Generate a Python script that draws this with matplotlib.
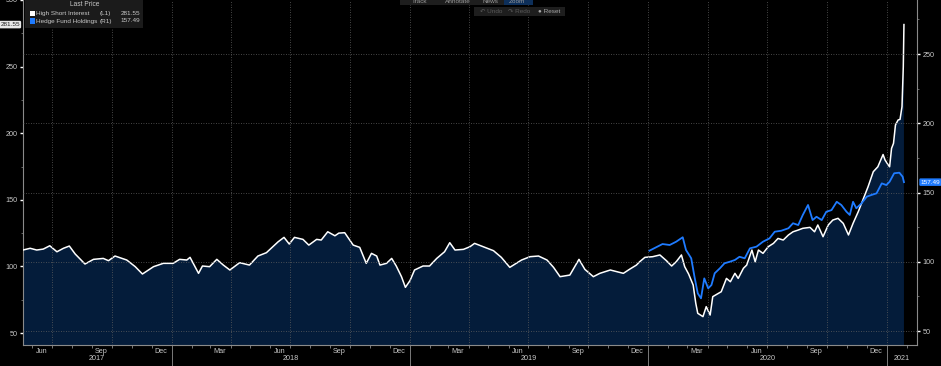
import matplotlib
matplotlib.use("Agg")
import matplotlib.pyplot as plt
import matplotlib.dates as mdates
import pandas as pd
from matplotlib.patches import Rectangle
from matplotlib.ticker import MultipleLocator
from matplotlib.transforms import blended_transform_factory

plt.rcParams["font.family"] = ["Liberation Sans", "DejaVu Sans"]

# High Short Interest basket (left axis)
white_dates = [
    "2017-05-18", "2017-05-29", "2017-06-08", "2017-06-18", "2017-06-28", "2017-07-09",
    "2017-07-19", "2017-07-28", "2017-08-06", "2017-08-21", "2017-09-03", "2017-09-18",
    "2017-09-26", "2017-10-06", "2017-10-24", "2017-11-06", "2017-11-17", "2017-12-04",
    "2017-12-19", "2018-01-03", "2018-01-13", "2018-01-24", "2018-01-29", "2018-02-11",
    "2018-02-17", "2018-02-28", "2018-03-11", "2018-03-21", "2018-03-31", "2018-04-15",
    "2018-04-30", "2018-05-13", "2018-05-26", "2018-06-13", "2018-06-22", "2018-06-30",
    "2018-07-08", "2018-07-21", "2018-07-30", "2018-08-11", "2018-08-18", "2018-08-28",
    "2018-09-08", "2018-09-14", "2018-09-23", "2018-10-06", "2018-10-16", "2018-10-26",
    "2018-11-03", "2018-11-11", "2018-11-16", "2018-11-26", "2018-12-04", "2018-12-11",
    "2018-12-19", "2018-12-25", "2019-01-01", "2019-01-08", "2019-01-21", "2019-01-31",
    "2019-02-11", "2019-02-23", "2019-03-03", "2019-03-11", "2019-03-24", "2019-04-03",
    "2019-04-10", "2019-04-23", "2019-05-09", "2019-05-21", "2019-06-03", "2019-06-21",
    "2019-07-04", "2019-07-17", "2019-07-30", "2019-08-09", "2019-08-19", "2019-09-03",
    "2019-09-17", "2019-09-26", "2019-10-09", "2019-10-19", "2019-11-04", "2019-11-24",
    "2019-12-04", "2019-12-14", "2019-12-19", "2019-12-27", "2020-01-08", "2020-01-19",
    "2020-01-29", "2020-02-06", "2020-02-13", "2020-02-21", "2020-02-26", "2020-03-03",
    "2020-03-10", "2020-03-14", "2020-03-17", "2020-03-25", "2020-03-30", "2020-04-05",
    "2020-04-09", "2020-04-16", "2020-04-22", "2020-04-30", "2020-05-06", "2020-05-13",
    "2020-05-18", "2020-05-26", "2020-05-31", "2020-06-08", "2020-06-13", "2020-06-18",
    "2020-06-25", "2020-07-03", "2020-07-11", "2020-07-18", "2020-07-26", "2020-08-03",
    "2020-08-10", "2020-08-18", "2020-08-25", "2020-09-05", "2020-09-12", "2020-09-17",
    "2020-09-25", "2020-10-03", "2020-10-10", "2020-10-18", "2020-10-26", "2020-11-03",
    "2020-11-10", "2020-11-18", "2020-11-25", "2020-12-03", "2020-12-11", "2020-12-18",
    "2020-12-26", "2020-12-29", "2021-01-03", "2021-01-05", "2021-01-08", "2021-01-11",
    "2021-01-14", "2021-01-18", "2021-01-21", "2021-01-24", "2021-01-26", "2021-01-27",
]
white_vals = [
    112.3, 113.6, 112.3, 113.0, 115.5, 111.0,
    113.6, 115.3, 109.3, 101.8, 105.3, 106.0,
    104.3, 107.8, 104.8, 99.8, 94.3, 99.8,
    102.3, 102.3, 105.3, 104.8, 106.8, 94.8,
    100.3, 99.8, 105.3, 101.0, 97.3, 102.8,
    101.0, 107.8, 110.3, 118.5, 121.8, 116.8,
    121.8, 120.3, 116.0, 120.3, 119.8, 126.0,
    123.0, 125.0, 125.3, 116.0, 114.3, 102.3,
    109.8, 107.8, 101.0, 102.3, 106.0, 100.3,
    92.3, 84.3, 89.3, 97.3, 100.3, 100.3,
    106.0, 111.0, 117.8, 112.3, 112.8, 114.8,
    117.3, 114.8, 111.8, 106.8, 99.3, 104.8,
    107.3, 107.8, 104.8, 99.3, 92.3, 93.5,
    105.3, 97.8, 92.3, 94.8, 97.3, 94.8,
    98.0, 101.0, 103.5, 106.8, 107.3, 108.6,
    104.3, 100.3, 103.5, 108.6, 99.8, 94.3,
    86.0, 72.3, 64.8, 62.3, 69.8, 63.5,
    77.3, 79.3, 81.0, 91.0, 88.5, 94.8,
    91.0, 98.6, 101.0, 112.3, 103.5, 112.3,
    109.8, 114.8, 117.3, 121.0, 119.8, 123.6,
    126.0, 127.3, 128.6, 129.3, 126.0, 131.1,
    122.3, 131.1, 134.8, 136.1, 132.3, 123.6,
    132.3, 141.1, 149.8, 159.8, 171.1, 174.8,
    184.0, 179.9, 176.1, 174.8, 188.6, 192.4,
    206.2, 209.9, 210.4, 219.9, 249.9, 281.55,
]

# Hedge Fund Holdings basket (right axis)
blue_dates = [
    "2020-01-03", "2020-01-13", "2020-01-23", "2020-02-03", "2020-02-13", "2020-02-23",
    "2020-02-28", "2020-03-07", "2020-03-12", "2020-03-17", "2020-03-22", "2020-03-27",
    "2020-04-02", "2020-04-07", "2020-04-12", "2020-04-20", "2020-04-27", "2020-05-05",
    "2020-05-13", "2020-05-20", "2020-05-28", "2020-06-05", "2020-06-15", "2020-06-25",
    "2020-07-05", "2020-07-13", "2020-07-23", "2020-08-03", "2020-08-10", "2020-08-18",
    "2020-08-25", "2020-09-02", "2020-09-09", "2020-09-15", "2020-09-23", "2020-09-30",
    "2020-10-08", "2020-10-16", "2020-10-23", "2020-10-31", "2020-11-05", "2020-11-10",
    "2020-11-15", "2020-11-23", "2020-12-01", "2020-12-08", "2020-12-16", "2020-12-24",
    "2020-12-31", "2021-01-05", "2021-01-12", "2021-01-20", "2021-01-25", "2021-01-27",
]
blue_vals = [
    108.0, 110.4, 112.8, 112.1, 114.5, 117.7,
    108.5, 102.5, 89.2, 77.2, 73.6, 88.0,
    80.8, 83.2, 91.7, 95.3, 98.9, 100.0,
    101.3, 103.6, 102.5, 109.7, 110.9, 114.5,
    116.9, 121.7, 122.4, 124.2, 127.8, 126.5,
    133.8, 141.0, 130.1, 132.5, 130.1, 136.1,
    137.3, 143.3, 141.0, 136.1, 133.8, 143.3,
    138.6, 142.2, 147.0, 148.2, 149.4, 156.6,
    155.4, 157.8, 163.9, 164.3, 161.4, 157.49,
]

legend_names = ["High Short Interest", "Hedge Fund Holdings"]
legend_axes = ["(L1)", "(R1)"]
last_white = white_vals[-1]
last_blue = blue_vals[-1]
years = [2017, 2018, 2019, 2020, 2021]

NAVY = "#041c3a"
BLUE = "#1f7bff"
TXT = "#c8c8c8"
GRID = "#5e5e5e"

W, H = 941, 366
fig = plt.figure(figsize=(W / 100, H / 100), dpi=100, facecolor="black")
ax = fig.add_axes([23 / W, 21 / H, (917 - 23) / W, (H - 21) / H])
ax.set_facecolor("black")
ax2 = ax.twinx()

wd = pd.to_datetime(white_dates)
bd = pd.to_datetime(blue_dates)
ax.fill_between(wd, white_vals, 0, color=NAVY, lw=0, zorder=1)
ax.plot(wd, white_vals, color="white", lw=1.1, zorder=3)
ax2.plot(bd, blue_vals, color=BLUE, lw=1.3, zorder=3)

x0, x1 = pd.Timestamp("2017-05-18"), pd.Timestamp("2021-02-16")
ax.set_xlim(x0, x1)
ax.set_ylim(41, 300)
ax2.set_ylim(39.9, 289)

# grid: horizontal from right axis, vertical at quarter starts
ax2.grid(axis="y", color=GRID, ls=(0, (1, 2)), lw=0.6)
for q in pd.date_range("2017-07-01", "2021-01-01", freq="QS"):
    ax2.axvline(q, color=GRID, ls=(0, (1, 2)), lw=0.6, zorder=2)

# spines
for a in (ax, ax2):
    a.spines["top"].set_visible(False)
ax2.spines["left"].set_visible(False)
ax2.spines["bottom"].set_visible(False)
ax.spines["right"].set_visible(False)
for s in ("left", "bottom"):
    ax.spines[s].set_color("#8a8a8a")
    ax.spines[s].set_linewidth(0.8)
ax2.spines["right"].set_color("#8a8a8a")
ax2.spines["right"].set_linewidth(0.8)

# y axes
for a in (ax, ax2):
    a.yaxis.set_major_locator(MultipleLocator(50))
    a.yaxis.set_minor_locator(MultipleLocator(25))
    a.tick_params(axis="y", which="major", labelsize=5.2, labelcolor=TXT, color="white",
                  length=2.5, width=1, pad=1.5)
    a.tick_params(axis="y", which="minor", color="#777777", length=1.5, width=0.6)

# x axis: month ticks, labels mid-month for quarter-end months
ax.xaxis.set_major_locator(mdates.MonthLocator(bymonth=(3, 6, 9, 12), bymonthday=15))
ax.xaxis.set_major_formatter(mdates.DateFormatter("%b"))
ax.xaxis.set_minor_locator(mdates.MonthLocator())
ax.tick_params(axis="x", which="major", length=0, labelsize=5.2, labelcolor=TXT, pad=2)
ax.tick_params(axis="x", which="minor", length=2, color="#8a8a8a", width=0.6)

trans = blended_transform_factory(ax.transData, ax.transAxes)
for y in years:
    start = max(x0, pd.Timestamp(f"{y}-01-01"))
    end = min(x1, pd.Timestamp(f"{y}-12-31"))
    mid = start + (end - start) / 2
    ax.text(mid, -0.038, str(y), transform=trans, ha="center", va="center",
            fontsize=5.2, color=TXT)
    if y > years[0]:
        ax.plot([pd.Timestamp(f"{y}-01-01")] * 2, [0, -0.07], transform=trans,
                color="#7a7a7a", lw=0.7, clip_on=False)

# last value tags
ax.text(-0.0035, last_white, f"{last_white:.2f}",
        transform=blended_transform_factory(ax.transAxes, ax.transData),
        ha="right", va="center", fontsize=4.6, color="#222222",
        bbox=dict(boxstyle="round,pad=0.2", fc="#e8e8e8", ec="none"))
ax2.text(1.004, last_blue, f"{last_blue:.2f}",
         transform=blended_transform_factory(ax2.transAxes, ax2.transData),
         ha="left", va="center", fontsize=4.6, color="white",
         bbox=dict(boxstyle="round,pad=0.2", fc=BLUE, ec="none"))


def px(x, y):
    return x / W, 1 - y / H


# legend box
fig.patches.append(Rectangle(px(25, 28), 118 / W, 28 / H, transform=fig.transFigure,
                             fc="#1b1b1b", ec="none", zorder=5))
fig.text(*px(85, 5), "Last Price", ha="center", va="center", fontsize=4.8, color=TXT, zorder=6)
for i, (name, tag, col, val) in enumerate(zip(legend_names, legend_axes, ["white", BLUE],
                                              [last_white, last_blue])):
    yy = 13.3 + i * 7.7
    fig.patches.append(Rectangle(px(29.5, yy + 2.7), 5 / W, 5.4 / H, transform=fig.transFigure,
                                 fc=col, ec="none", zorder=6))
    fig.text(*px(36.5, yy), name, ha="left", va="center", fontsize=4.6, color=TXT, zorder=6)
    fig.text(*px(100, yy), tag, ha="left", va="center", fontsize=4.6, color=TXT, zorder=6)
    fig.text(*px(140, yy), f"{val:.2f}", ha="right", va="center", fontsize=4.6,
             color=TXT, zorder=6)

# toolbar remnants at the top
fig.patches.append(Rectangle(px(400, 5), 133 / W, 5 / H, transform=fig.transFigure,
                             fc="#1e1e1e", ec="none", zorder=5))
fig.patches.append(Rectangle(px(504, 5), 29 / W, 5 / H, transform=fig.transFigure,
                             fc="#0d2f5a", ec="none", zorder=5))
for x, t in [(420, "Track"), (458, "Annotate"), (490, "News"), (517, "Zoom")]:
    fig.text(*px(x, 1.5), t, ha="center", va="center", fontsize=4.6, color="#9a9a9a", zorder=6)
fig.patches.append(Rectangle(px(474, 16), 91 / W, 9 / H, transform=fig.transFigure,
                             fc="#1e1e1e", ec="none", zorder=5))
for x, t, c in [(491, "↶ Undo", "#5a5a5a"), (519, "↷ Redo", "#5a5a5a"),
                (549, "● Reset", "#a8a8a8")]:
    fig.text(*px(x, 11.5), t, ha="center", va="center", fontsize=4.6, color=c, zorder=6)

fig.savefig("out.png", dpi=100, facecolor="black")
